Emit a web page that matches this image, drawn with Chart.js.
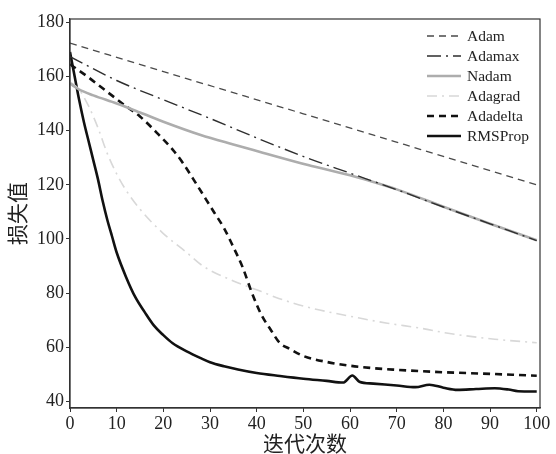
<!DOCTYPE html>
<html>
<head>
<meta charset="utf-8">
<script src="https://cdn.jsdelivr.net/npm/chart.js@4.4.1/dist/chart.umd.min.js"></script>
<style>
  html, body { margin: 0; padding: 0; background: #fff; }
  canvas { display: block; }
</style>
</head>
<body>
<canvas id="c" width="556" height="454"></canvas>
<script>
// Axis ticks
const xTicks = [0, 10, 20, 30, 40, 50, 60, 70, 80, 90, 100];
const yTicks = [40, 60, 80, 100, 120, 140, 160, 180];

// Loss per iteration for each optimizer
const adamIter = [0, 25, 50, 75, 100];
const adamLoss = [172.3, 159.2, 146.2, 133.1, 120.0];

const adamaxIter = [0, 10, 21, 30, 40, 51, 60, 70, 80, 90, 100];
const adamaxLoss = [167.3, 158.5, 150.7, 144.5, 137.3, 129.8, 124.3, 118.2, 111.8, 105.6, 99.4];

const nadamIter = [0, 1, 2, 5, 10, 15, 20, 28, 35, 40, 51, 60, 65, 70, 80, 90, 100];
const nadamLoss = [157.5, 156.2, 155.1, 153.0, 150.0, 146.7, 143.3, 138.4, 134.9, 132.5, 127.3, 123.5, 121.0, 118.3, 111.9, 105.6, 99.5];

const adagradIter = [0, 2, 4, 6, 8, 10, 12, 15, 20, 25, 28.5, 35, 41, 44, 51, 62, 68, 75, 81, 91, 100];
const adagradLoss = [158, 155, 149, 141, 131.5, 124, 118, 111, 102, 95, 90, 84.5, 80.6, 78.5, 74.8, 70.8, 68.9, 67.1, 65.2, 63.0, 61.7];

const adadeltaIter = [0, 4, 7, 12, 15, 19, 22, 24, 27, 29, 31, 33, 35, 37, 39, 41, 43, 45, 47, 50, 55, 60, 65, 70, 75, 80, 90, 100];
const adadeltaLoss = [164.5, 159.6, 155.6, 149, 145.2, 138.5, 133, 128.5, 120.5, 115, 109.5, 104, 97, 89.5, 80, 72, 66.5, 61.5, 59.5, 56.8, 54.6, 53.2, 52.3, 51.7, 51.2, 50.8, 50.2, 49.5];

const rmspropIter = [0, 1, 2, 3, 4, 5, 6, 7, 8, 9, 10, 12, 14, 16, 18, 20, 22, 25, 28, 30, 33, 36, 40, 45, 50, 55, 58.5, 60.5, 62, 65, 70, 74, 77, 80, 83, 87, 91, 94, 96, 100];
const rmspropLoss = [169, 160, 151, 143, 136, 129, 122, 114, 107, 101, 95, 86, 78.5, 73, 68, 64.5, 61.5, 58.5, 56, 54.5, 53, 51.8, 50.5, 49.4, 48.4, 47.6, 47.0, 49.6, 47.3, 46.6, 45.9, 45.3, 46.2, 45.1, 44.3, 44.6, 44.9, 44.4, 43.8, 43.7];

const seriesNames = ['Adam', 'Adamax', 'Nadam', 'Adagrad', 'Adadelta', 'RMSProp'];

function points(iters, losses) {
  return iters.map((x, i) => ({ x: x, y: losses[i] }));
}

const serif = '"Liberation Serif", "Times New Roman", serif';
const cjk = '"Noto Sans CJK SC", sans-serif';

// Box around the plotting area
const frame = {
  id: 'frame',
  afterDatasetsDraw(chart) {
    const a = chart.chartArea, ctx = chart.ctx;
    ctx.save();
    ctx.strokeStyle = '#333';
    ctx.lineWidth = 1.2;
    ctx.strokeRect(a.left, a.top, a.right - a.left, a.bottom - a.top);
    ctx.restore();
  }
};

// Legend drawn in the upper-right corner of the plot
const cornerLegend = {
  id: 'cornerLegend',
  afterDraw(chart) {
    const a = chart.chartArea, ctx = chart.ctx;
    const x0 = a.right - 113, x1 = a.right - 79, tx = a.right - 73;
    ctx.save();
    chart.data.datasets.forEach((ds, i) => {
      const y = a.top + 17 + i * 20;
      ctx.beginPath();
      ctx.setLineDash(ds.borderDash || []);
      ctx.lineWidth = ds.borderWidth;
      ctx.strokeStyle = ds.borderColor;
      ctx.moveTo(x0, y);
      ctx.lineTo(x1, y);
      ctx.stroke();
      ctx.setLineDash([]);
      ctx.fillStyle = '#222';
      ctx.font = '15.5px ' + serif;
      ctx.textBaseline = 'middle';
      ctx.textAlign = 'left';
      ctx.fillText(ds.label, tx, y + 1);
    });
    ctx.restore();
  }
};

const styles = [
  { color: '#4a4a4a', width: 1.3, dash: [7, 5] },
  { color: '#2e2e2e', width: 1.4, dash: [14, 5, 2, 5] },
  { color: '#adadad', width: 2.6, dash: [] },
  { color: '#d8d8d8', width: 1.6, dash: [10, 5, 2, 5] },
  { color: '#111111', width: 2.6, dash: [7, 5] },
  { color: '#111111', width: 2.6, dash: [] }
];

const seriesData = [
  points(adamIter, adamLoss),
  points(adamaxIter, adamaxLoss),
  points(nadamIter, nadamLoss),
  points(adagradIter, adagradLoss),
  points(adadeltaIter, adadeltaLoss),
  points(rmspropIter, rmspropLoss)
];

new Chart(document.getElementById('c'), {
  type: 'line',
  data: {
    datasets: seriesNames.map((name, i) => ({
      label: name,
      data: seriesData[i],
      borderColor: styles[i].color,
      borderWidth: styles[i].width,
      borderDash: styles[i].dash,
      pointRadius: 0,
      fill: false,
      cubicInterpolationMode: 'monotone'
    }))
  },
  options: {
    responsive: false,
    animation: false,
    layout: { padding: { top: 19, right: 16, left: 0, bottom: 0 } },
    plugins: { legend: { display: false }, tooltip: { enabled: false } },
    scales: {
      x: {
        type: 'linear',
        min: 0,
        max: 100.7,
        afterBuildTicks(scale) { scale.ticks = xTicks.map(v => ({ value: v })); },
        afterFit(scale) { scale.height = 46; },
        grid: { drawOnChartArea: false, drawTicks: true, tickLength: 4, color: '#333' },
        border: { display: true, color: '#333', width: 1.2 },
        ticks: { font: { family: serif, size: 18 }, color: '#222', padding: 1, maxRotation: 0 },
        title: { display: true, text: '迭代次数', font: { family: cjk, size: 21, lineHeight: 1 }, color: '#222', padding: { top: 0, bottom: 0 } }
      },
      y: {
        type: 'linear',
        min: 37.6,
        max: 181.2,
        afterBuildTicks(scale) { scale.ticks = yTicks.map(v => ({ value: v })); },
        afterFit(scale) { scale.width = 70; },
        grid: { drawOnChartArea: false, drawTicks: true, tickLength: 4, color: '#333' },
        border: { display: true, color: '#333', width: 1.2 },
        ticks: { font: { family: serif, size: 18 }, color: '#222', padding: 2 },
        title: { display: true, text: '损失值', font: { family: cjk, size: 21, lineHeight: 1 }, color: '#222', padding: { top: 7, bottom: 0 } }
      }
    }
  },
  plugins: [frame, cornerLegend]
});
</script>
</body>
</html>
